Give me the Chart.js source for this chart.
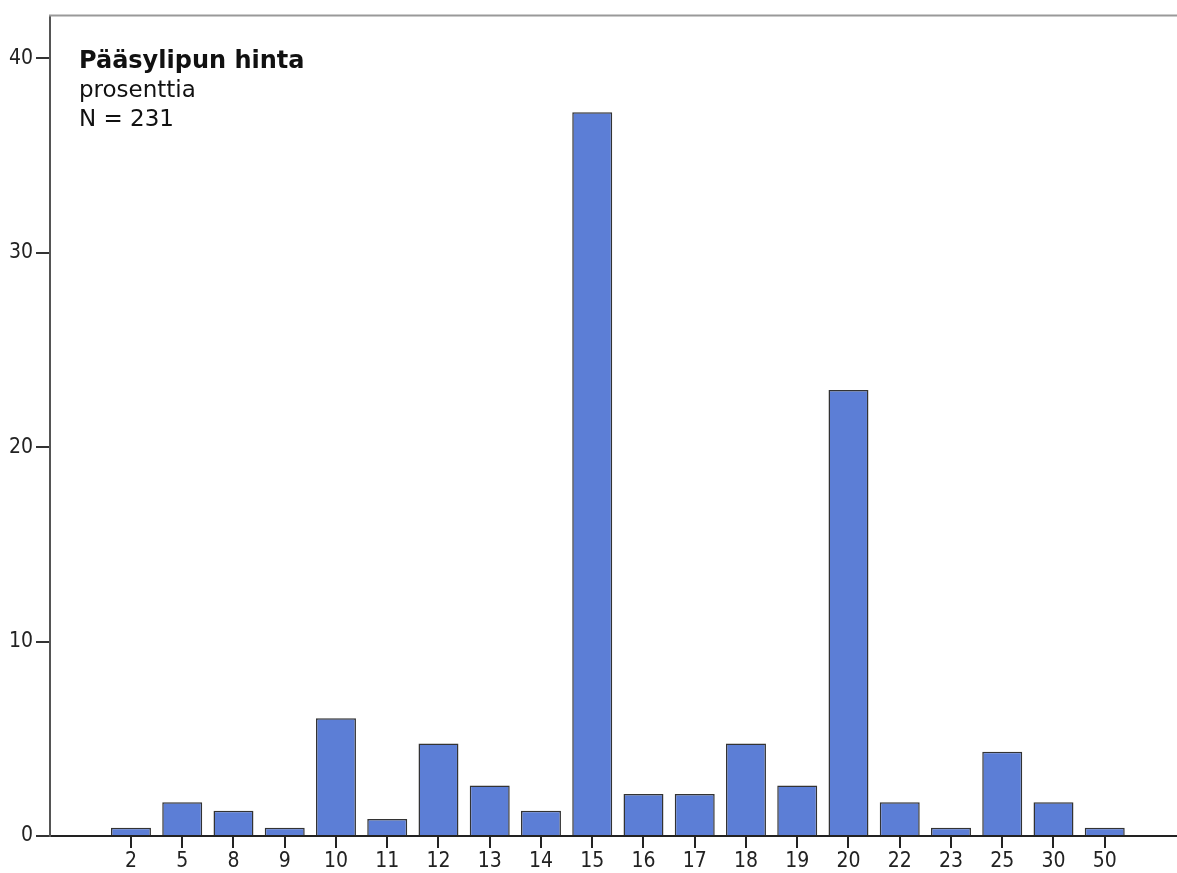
<!DOCTYPE html>
<html lang="fi">
<head>
  <meta charset="UTF-8">
  <title>Pääsylipun hinta</title>
  <style>
    html, body { margin: 0; padding: 0; background: #fff; }
    .wrap { width: 1177px; height: 873px; }
  </style>
</head>
<body>
  <div class="wrap">
    <canvas class="barChart"></canvas>
  </div>

  <script src="https://cdn.jsdelivr.net/npm/chart.js"></script>
  <script>

// hinta (euroa) ja osuus vastaajista (%), N = 231
let prices = ['2', '5', '8', '9', '10', '11', '12', '13', '14', '15', '16', '17', '18', '19', '20', '22', '23', '25', '30', '50'];
let percents = [0.43, 1.73, 1.30, 0.43, 6.06, 0.87, 4.76, 2.60, 1.30, 37.23, 2.16, 2.16, 4.76, 2.60, 22.94, 1.73, 0.43, 4.33, 1.73, 0.43];
let yTicks = [0, 10, 20, 30, 40];
let titleLines = ['Pääsylipun hinta', 'prosenttia', 'N = 231'];

const font = 'DejaVu Sans';
const tickFont = '"DejaVu Sans Condensed", "DejaVu Sans", sans-serif';

// otsikkoteksti kuvan sisään + yläreuna
const overlay = {
  id: 'overlay',
  afterDraw(chart) {
    const { ctx, chartArea } = chart;
    ctx.save();
    ctx.strokeStyle = '#999';
    ctx.lineWidth = 2;
    ctx.beginPath();
    ctx.moveTo(chartArea.left - 1, chartArea.top);
    ctx.lineTo(chartArea.right, chartArea.top);
    ctx.stroke();

    ctx.fillStyle = '#111';
    ctx.textBaseline = 'alphabetic';
    ctx.font = 'bold 24px "' + font + '"';
    ctx.fillText(titleLines[0], 79, 68);
    ctx.font = '23px "' + font + '"';
    ctx.fillText(titleLines[1], 79, 97);
    ctx.fillText(titleLines[2], 79, 126);
    ctx.restore();
  }
};

let canvas = document.querySelector('.barChart');
let context = canvas.getContext('2d');

let data = {
  datasets: [{
    data: percents.map((v, i) => ({ x: i, y: v })),
    backgroundColor: 'rgb(92, 126, 214)',
    borderColor: '#333',
    borderWidth: 1.5,
    categoryPercentage: 1,
    barPercentage: 0.78
  }]
};

let config = {
  type: 'bar',
  data: data,
  plugins: [overlay],
  options: {
    responsive: true,
    maintainAspectRatio: false,
    animation: false,
    layout: { padding: { top: 14, left: 0, right: 0, bottom: 0 } },
    plugins: {
      legend: { display: false },
      tooltip: { enabled: false }
    },
    scales: {
      x: {
        type: 'linear',
        offset: false,
        min: -1.58,
        max: 20.41,
        afterBuildTicks: (scale) => { scale.ticks = prices.map((_, i) => ({ value: i })); },
        afterFit: (scale) => { scale.height = 37; },
        grid: { offset: false, drawOnChartArea: false, drawTicks: true, tickLength: 12, tickColor: '#222', lineWidth: 2 },
        border: { display: true, color: '#222', width: 2 },
        ticks: {
          autoSkip: false,
          maxRotation: 0,
          padding: 1,
          color: '#222',
          font: { family: tickFont, size: 21 },
          callback: (value) => prices[value]
        }
      },
      y: {
        min: 0,
        max: 42.2,
        afterBuildTicks: (scale) => { scale.ticks = yTicks.map(v => ({ value: v })); },
        afterFit: (scale) => { scale.width = 50; },
        grid: { drawOnChartArea: false, drawTicks: true, tickLength: 14, tickColor: '#333', lineWidth: 2 },
        border: { display: true, color: '#555', width: 2 },
        ticks: {
          padding: 3,
          color: '#222',
          font: { family: tickFont, size: 21 }
        }
      }
    }
  }
};

new Chart(context, config);

  </script>
</body>
</html>
